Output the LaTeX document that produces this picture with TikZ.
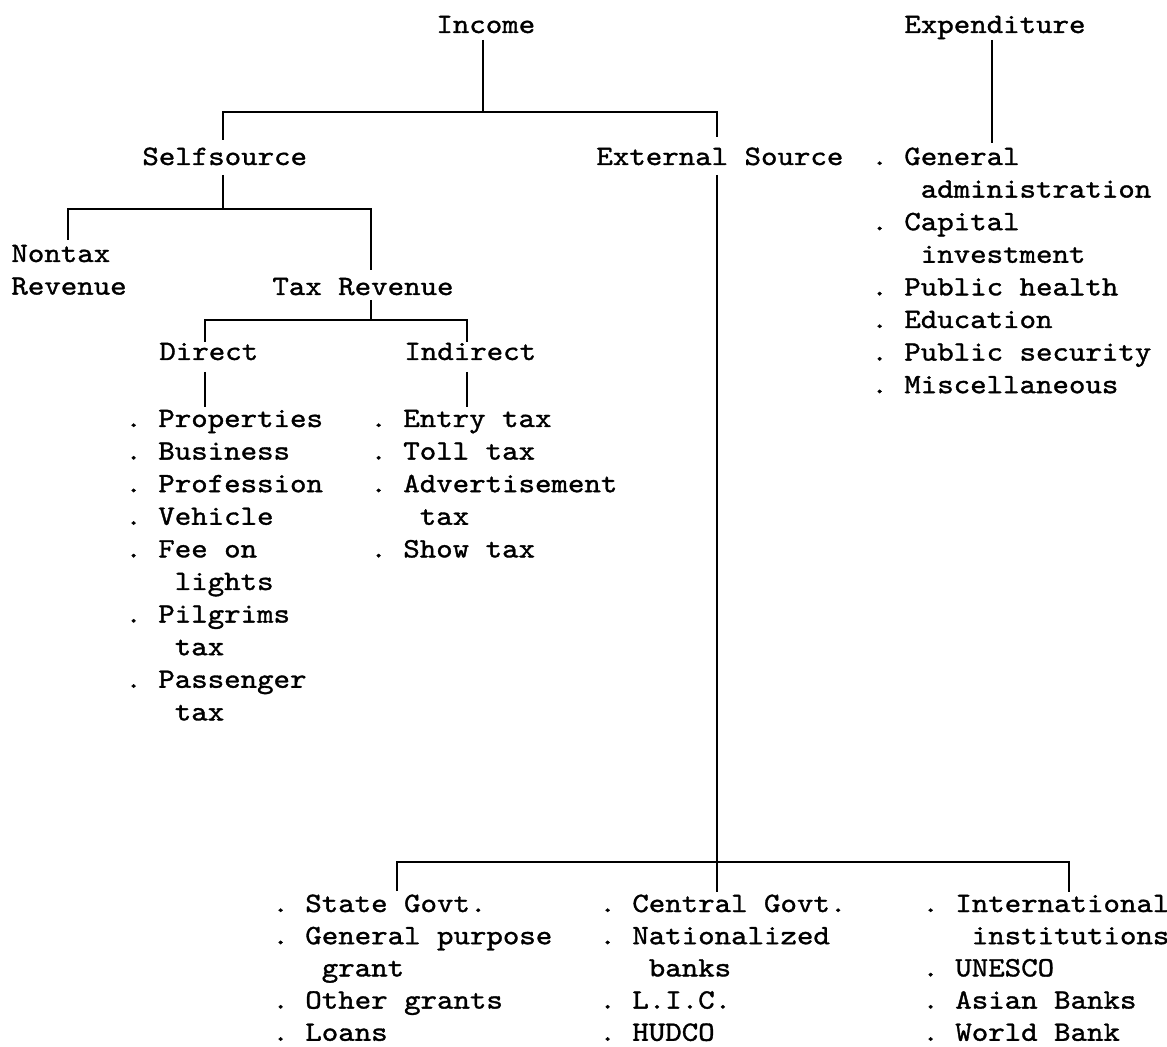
\documentclass[tikz,border=0pt]{standalone}
\usepackage{fontspec}
\newfontfamily\tw{lmmono10-regular.otf}[FakeStretch=1.12, FakeBold=1.2]
\newcommand\ind{\phantom{xxx}}
\newcommand\mylines[2][16.3pt]{\vtop{\baselineskip=#1\lineskip=0pt\lineskiplimit=-20pt #2}}
\begin{document}
\frenchspacing
\begin{tikzpicture}[x=0.5pt,y=-0.5pt,
  txt/.style={inner sep=0pt, anchor=base west, font=\tw\fontsize{14pt}{16.3pt}\selectfont},
  conn/.style={line width=1.4pt, line join=miter, line cap=butt}]
\useasboundingbox (0,0) rectangle (1167,1047);
\fill[white] (0,0) rectangle (1167,1047);

% ---- text nodes
\node[txt] (income) at (436,33) {Income};
\node[txt] (expend) at (904,33) {Expenditure};
\node[txt] (self) at (142,165) {Selfsource};
\node[txt] (ext) at (596,165) {External Source};
\node[txt] (explist) at (871,165) {\mylines{%
  \hbox{. General}\hbox{\ind administration}%
  \hbox{. Capital}\hbox{\ind investment}%
  \hbox{. Public health}\hbox{. Education}%
  \hbox{. Public security}\hbox{. Miscellaneous}}};
\node[txt] (nontax) at (11,262) {\mylines{\hbox{Nontax}\hbox{Revenue}}};
\node[txt] (taxrev) at (272,295) {Tax Revenue};
\node[txt] (direct) at (159,360) {Direct};
\node[txt] (indirect) at (404,360) {Indirect};
\node[txt] (dlist) at (125,427) {\mylines{%
  \hbox{. Properties}\hbox{. Business}\hbox{. Profession}\hbox{. Vehicle}%
  \hbox{. Fee on}\hbox{\ind lights}\hbox{. Pilgrims}\hbox{\ind tax}%
  \hbox{. Passenger}\hbox{\ind tax}}};
\node[txt] (ilist) at (370,427) {\mylines{%
  \hbox{. Entry tax}\hbox{. Toll tax}\hbox{. Advertisement}\hbox{\ind tax}%
  \hbox{. Show tax}}};
\node[txt] (blist1) at (272,912) {\mylines[16.1pt]{%
  \hbox{. State Govt.}\hbox{. General purpose}\hbox{\ind grant}%
  \hbox{. Other grants}\hbox{. Loans}}};
\node[txt] (blist2) at (599,912) {\mylines[16.1pt]{%
  \hbox{. Central Govt.}\hbox{. Nationalized}\hbox{\ind banks}%
  \hbox{. L.I.C.}\hbox{. HUDCO}}};
\node[txt] (blist3) at (922,912) {\mylines[16.1pt]{%
  \hbox{. International}\hbox{\ind institutions}\hbox{. UNESCO}%
  \hbox{. Asian Banks}\hbox{. World Bank}}};

% ---- connector end points
\coordinate (incB) at (483,40);
\coordinate (h1l) at (223,112);
\coordinate (h1r) at (717,112);
\coordinate (h1m) at (483,112);
\coordinate (selfT) at (223,140);
\coordinate (extT) at (717,137);
\coordinate (expB) at (992,40);
\coordinate (explT) at (992,143);
\coordinate (selfB) at (223,175);
\coordinate (h2m) at (223,209);
\coordinate (h2l) at (68,209);
\coordinate (h2r) at (371,209);
\coordinate (nontaxT) at (68,240);
\coordinate (taxrevT) at (371,270);
\coordinate (taxrevB) at (371,300);
\coordinate (h3m) at (371,320);
\coordinate (h3l) at (205,320);
\coordinate (h3r) at (467,320);
\coordinate (directT) at (205,342);
\coordinate (indirectT) at (467,342);
\coordinate (directB) at (205,372);
\coordinate (dlistT) at (205,407);
\coordinate (indirectB) at (467,372);
\coordinate (ilistT) at (467,407);
\coordinate (extB) at (717,175);
\coordinate (b2T) at (717,892);
\coordinate (h4l) at (397,862);
\coordinate (h4r) at (1069,862);
\coordinate (b1T) at (397,891);
\coordinate (b3T) at (1069,892);

% ---- connectors
\draw[conn] (incB) -- (h1m);
\draw[conn] (selfT) -- (h1l) -- (h1r) -- (extT);
\draw[conn] (expB) -- (explT);
\draw[conn] (selfB) -- (h2m);
\draw[conn] (nontaxT) -- (h2l) -- (h2r) -- (taxrevT);
\draw[conn] (taxrevB) -- (h3m);
\draw[conn] (directT) -- (h3l) -- (h3r) -- (indirectT);
\draw[conn] (directB) -- (dlistT);
\draw[conn] (indirectB) -- (ilistT);
\draw[conn] (extB) -- (b2T);
\draw[conn] (b1T) -- (h4l) -- (h4r) -- (b3T);
\end{tikzpicture}
\end{document}
